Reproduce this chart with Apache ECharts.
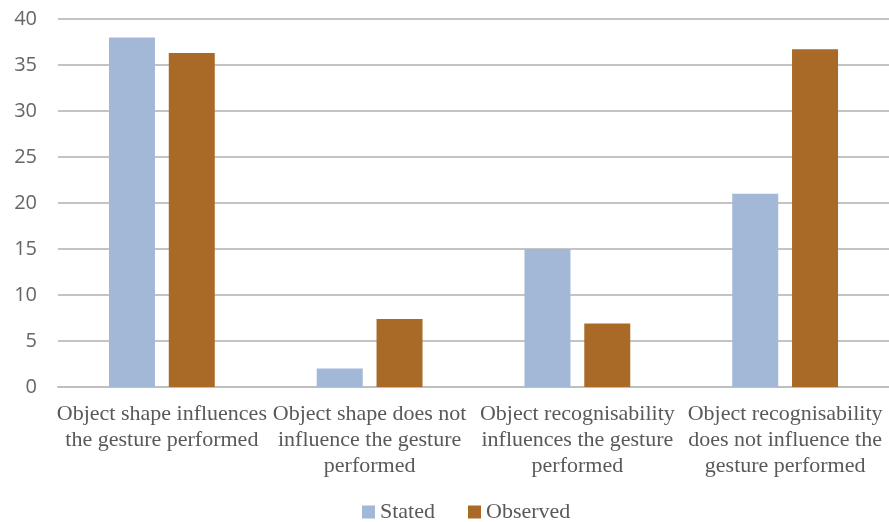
<!DOCTYPE html>
<html>
<head>
<meta charset="utf-8">
<script src="https://cdn.jsdelivr.net/npm/echarts@6/dist/echarts.min.js"></script>
<style>
	html, body { margin: 0; padding: 0; background: #fff; }
	#chart { width: 889px; height: 522px; }
</style>
</head>
<body>
<div id="chart"></div>
<script>
var categories = [
	'Object shape influences\nthe gesture performed',
	'Object shape does not\ninfluence the gesture\nperformed',
	'Object recognisability\ninfluences the gesture\nperformed',
	'Object recognisability\ndoes not influence the\ngesture performed'
];
var stated = [38, 2, 15, 21];
var observed = [36.3, 7.4, 6.9, 36.7];
var yTicks = { min: 0, max: 40, interval: 5 };

var chart = echarts.init(document.getElementById('chart'));

var option = {
	animation: false,
	grid: {
		left: 58,
		right: -7,
		top: 19,
		bottom: 135
	},
	legend: {
		top: 501,
		left: 362,
		padding: 0,
		itemWidth: 13,
		itemHeight: 13,
		itemGap: 33,
		icon: 'rect',
		textStyle: {
			fontFamily: "'Liberation Serif', serif",
			fontSize: 22,
			color: '#595959'
		},
		data: ['Stated', 'Observed']
	},
	xAxis: {
		type: 'category',
		data: categories,
		axisTick: { show: false },
		axisLine: { lineStyle: { color: '#bfbfbf', width: 2 } },
		axisLabel: {
			interval: 0,
			margin: 14,
			fontFamily: "'Liberation Serif', serif",
			fontSize: 22,
			lineHeight: 26,
			color: '#595959'
		}
	},
	yAxis: {
		type: 'value',
		min: yTicks.min,
		max: yTicks.max,
		interval: yTicks.interval,
		axisLine: { show: false },
		axisTick: { show: false },
		splitLine: { lineStyle: { color: '#c4c4c4', width: 2 } },
		axisLabel: {
			margin: 21,
			fontFamily: "'Open Sans'",
			fontSize: 20,
			color: '#666666'
		}
	},
	series: [
		{
			name: 'Stated',
			type: 'bar',
			data: stated,
			barWidth: 46,
			barGap: '30%',
			itemStyle: { color: '#a3b8d7' }
		},
		{
			name: 'Observed',
			type: 'bar',
			data: observed,
			barWidth: 46,
			itemStyle: { color: '#a96a28' }
		}
	]
};

chart.setOption(option, true);
</script>
</body>
</html>
